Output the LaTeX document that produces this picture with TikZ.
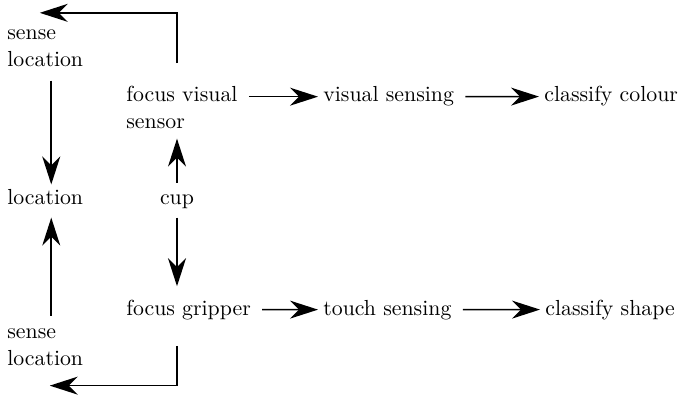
\documentclass[tikz,border=0pt]{standalone}
\usetikzlibrary{arrows.meta, positioning}

\begin{document}
\begin{tikzpicture}[
            x=0.5pt, y=-0.5pt,
            every node/.style={font=\fontsize{10.9}{13.5}\selectfont},
            txtnode/.style={inner sep=1pt, align=left, anchor=base west},
            arr/.style={-{Stealth[length=14pt, width=9pt, inset=4.5pt]}, line width=0.8pt},
            ]
            \useasboundingbox (0,0) rectangle (679,395);

            % left column (base = last line)
            \node[txtnode] (sl1) at (5,67)  {sense\\location};
            \node[txtnode] (loc) at (5,205) {location};
            \node[txtnode] (sl2) at (5,365) {sense\\location};

            % focus, cup and sensing
            \node[txtnode]                 (fvs) at (124,129) {focus visual\\sensor};
            \node[txtnode]                 (vs)  at (321,102) {visual sensing};
            \node[txtnode]                 (cc)  at (542,102) {classify colour};
            \node[inner sep=1pt, anchor=base] (cup) at (177,205) {cup};
            \node[txtnode]                 (fg)  at (124,315) {focus gripper};
            \node[txtnode]                 (ts)  at (321,315) {touch sensing};
            \node[txtnode]                 (cs)  at (543,315) {classify shape};

            \draw[arr, shorten <=4.5pt, shorten >=1.5pt] (fvs.east |- vs) -- (vs);
            \draw[arr, shorten <=4.5pt, shorten >=1.5pt] (vs) -- (cc);
            \draw[arr, shorten <=4.5pt, shorten >=1.5pt] (fg) -- (ts);
            \draw[arr, shorten <=4.5pt, shorten >=1.5pt] (ts) -- (cs);

            \draw[arr, shorten <=5pt, shorten >=3.5pt] (cup) -- (cup |- fvs.south);
            \draw[arr, shorten <=3pt, shorten >=5.5pt] (cup) -- (cup |- fg.north);

            \draw[arr, shorten <=5.5pt, shorten >=1.5pt] ([xshift=3pt]sl1.south) -- ([xshift=3pt]loc.north);
            \draw[arr, shorten <=5pt, shorten >=5pt] ([xshift=3pt]sl2.north) -- ([xshift=3pt]loc.south);

            \draw[arr, shorten <=10.5pt] (fvs.north -| cup) |- ([xshift=-2.75pt, yshift=7.5pt]sl1.north);
            \draw[arr, shorten <=12pt] (fg.south -| cup) |- ([xshift=2.25pt, yshift=-9pt]sl2.south);
        \end{tikzpicture}
\end{document}
